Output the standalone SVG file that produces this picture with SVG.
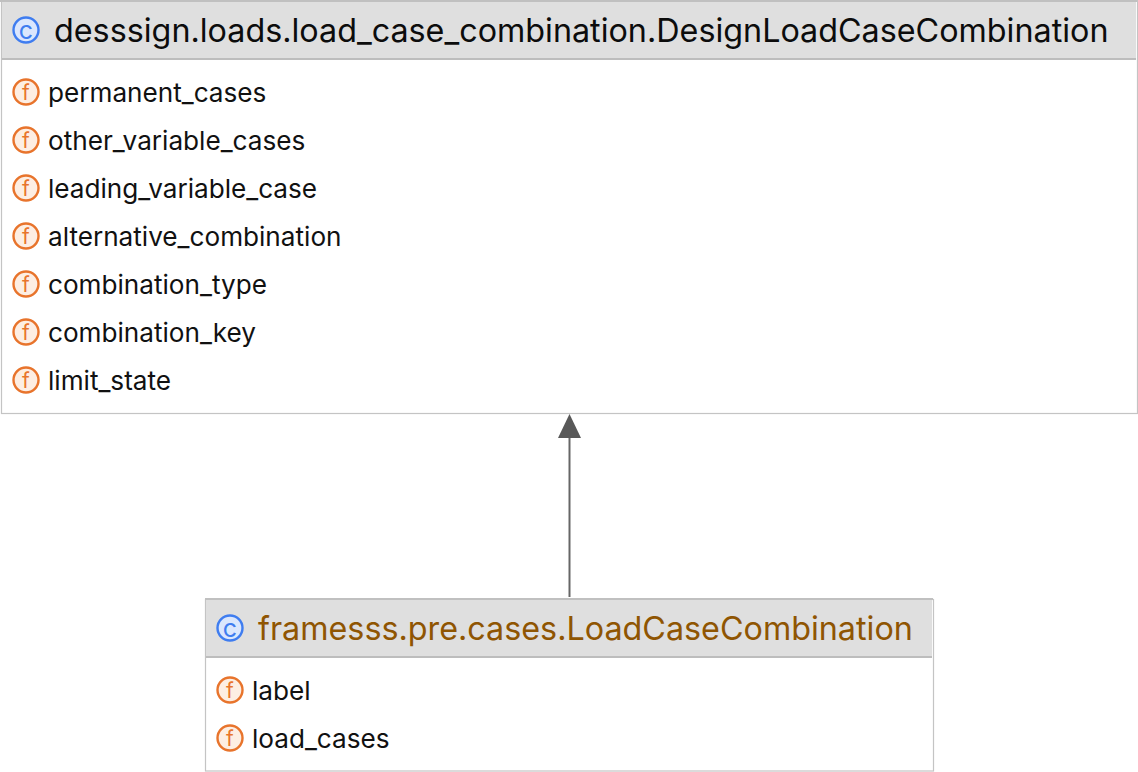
<svg xmlns="http://www.w3.org/2000/svg" width="1138" height="772" viewBox="0 0 1138 772">
<style>
text{font-family:Inter,"Noto Sans",sans-serif}
.box{fill:#fff;stroke:#c4c4c4;stroke-width:1.2}
.hd{fill:#dfdfdf}
.rule{stroke:#bdbdbd;stroke-width:2}
.top{stroke:#c0c0c0;stroke-width:2}
.title{font-size:32.3px;fill:#0c0c0c}
.brown{fill:#8f5502}
.fld{font-size:26.15px;fill:#111}
.ci{fill:#dbe7fd;stroke:#3f7df0;stroke-width:2.4}
.cg{font-size:25px;fill:#3f7df0;text-anchor:middle}
.fi{fill:#fdeee3;stroke:#e8742c;stroke-width:2.4}
.fg{font-size:21px;fill:#e8742c;text-anchor:middle}
</style>
<rect width="1138" height="772" fill="#fff"/>
<g id="node-design">
<rect class="box" x="1.5" y="0.5" width="1136" height="413"/>
<rect class="hd" x="2" y="1" width="1134" height="57"/>
<line class="top" x1="0" y1="1" x2="1137" y2="1"/>
<line class="rule" x1="2" y1="59" x2="1136" y2="59"/>
<circle class="ci" cx="26" cy="30" r="12.500"/><text class="cg" x="26" y="38.500">c</text>
<text class="title" x="54" y="41.500">desssign.loads.load_case_combination.DesignLoadCaseCombination</text>
<g><circle class="fi" cx="26" cy="92" r="12.500"/><text class="fg" x="26" y="99.500">f</text><text class="fld" x="48" y="102">permanent_cases</text></g>
<g><circle class="fi" cx="26" cy="140" r="12.500"/><text class="fg" x="26" y="147.500">f</text><text class="fld" x="48" y="150">other_variable_cases</text></g>
<g><circle class="fi" cx="26" cy="188" r="12.500"/><text class="fg" x="26" y="195.500">f</text><text class="fld" x="48" y="198">leading_variable_case</text></g>
<g><circle class="fi" cx="26" cy="236" r="12.500"/><text class="fg" x="26" y="243.500">f</text><text class="fld" x="48" y="246">alternative_combination</text></g>
<g><circle class="fi" cx="26" cy="284" r="12.500"/><text class="fg" x="26" y="291.500">f</text><text class="fld" x="48" y="294">combination_type</text></g>
<g><circle class="fi" cx="26" cy="332" r="12.500"/><text class="fg" x="26" y="339.500">f</text><text class="fld" x="48" y="342">combination_key</text></g>
<g><circle class="fi" cx="26" cy="380" r="12.500"/><text class="fg" x="26" y="387.500">f</text><text class="fld" x="48" y="390">limit_state</text></g>
</g>
<g id="node-frame">
<rect class="box" x="205.500" y="599.500" width="728" height="171.500"/>
<rect class="hd" x="206" y="600" width="726" height="56"/>
<line class="top" x1="205" y1="599" x2="933" y2="599"/>
<line class="rule" x1="206" y1="657" x2="932" y2="657"/>
<circle class="ci" cx="230" cy="628" r="12.500"/><text class="cg" x="230" y="636.500">c</text>
<text class="title brown" x="258" y="639.500">framesss.pre.cases.LoadCaseCombination</text>
<g><circle class="fi" cx="230" cy="690" r="12.500"/><text class="fg" x="230" y="697.500">f</text><text class="fld" x="252" y="700">label</text></g>
<g><circle class="fi" cx="230" cy="738" r="12.500"/><text class="fg" x="230" y="745.500">f</text><text class="fld" x="252" y="748">load_cases</text></g>
</g>
<g id="connectors">
<line x1="569.500" y1="597" x2="569.500" y2="437" stroke="#666" stroke-width="2"/>
<polygon points="569.500,414 581,438 558,438" fill="#585858"/>
</g>
</svg>
